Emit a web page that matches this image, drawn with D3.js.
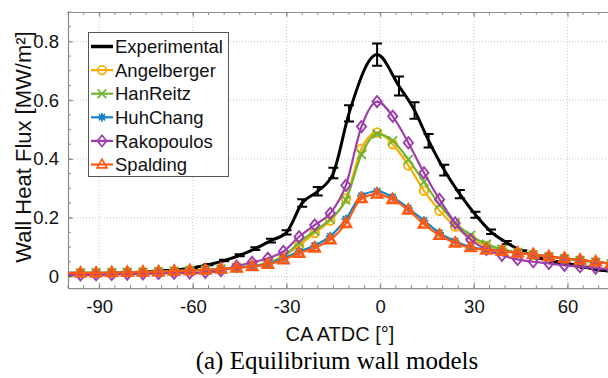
<!DOCTYPE html>
<html><head><meta charset="utf-8">
<script src="https://cdn.jsdelivr.net/npm/d3@7"></script>
<style>body{margin:0;background:#fff}svg{display:block}</style>
</head><body>
<svg id="c" width="608" height="378"></svg>
<script>
// ---- data ----
const expX = [-100,-95,-90,-85,-80,-75,-70,-65,-60,-55,-50,-45,-40,-35,-30,-25,-20,-15,-10,-1,6,11,15.5,20.5,25.5,30.5,35.5,40.5,45.5,50.5,55.5,60.5,65.5,70.5,75.5];
const expY = [0.006,0.007,0.009,0.011,0.013,0.016,0.019,0.023,0.03,0.04,0.054,0.072,0.095,0.122,0.15,0.25,0.29,0.352,0.555,0.755,0.648,0.565,0.462,0.362,0.28,0.21,0.152,0.115,0.085,0.064,0.05,0.04,0.031,0.022,0.015];
const modelX = [-100,-96,-91,-86,-81,-76,-71,-66,-61,-56,-51,-46,-41,-36,-31,-26,-21,-16,-11,-6,-1,4,9,14,19,24,29,34,39,44,49,54,59,64,69,74,79];
const angelberger = [0.012,0.012,0.012,0.013,0.014,0.015,0.016,0.018,0.02,0.022,0.025,0.03,0.036,0.046,0.07,0.105,0.148,0.19,0.265,0.435,0.49,0.45,0.378,0.292,0.224,0.17,0.13,0.104,0.09,0.081,0.074,0.067,0.061,0.055,0.049,0.044,0.04];
const hanReitz    = [0.012,0.012,0.012,0.013,0.014,0.015,0.016,0.018,0.02,0.022,0.025,0.03,0.036,0.045,0.068,0.115,0.155,0.195,0.26,0.415,0.485,0.462,0.398,0.322,0.245,0.183,0.14,0.11,0.093,0.082,0.074,0.067,0.06,0.054,0.048,0.043,0.039];
const huhChang    = [0.012,0.012,0.012,0.013,0.014,0.015,0.016,0.018,0.02,0.022,0.025,0.029,0.035,0.043,0.062,0.085,0.105,0.137,0.195,0.275,0.29,0.27,0.232,0.19,0.148,0.12,0.1,0.092,0.087,0.081,0.075,0.068,0.062,0.056,0.05,0.044,0.04];
const rakopoulos  = [0.005,0.005,0.006,0.007,0.008,0.009,0.01,0.011,0.012,0.014,0.02,0.035,0.048,0.062,0.085,0.135,0.175,0.215,0.31,0.51,0.595,0.545,0.455,0.353,0.262,0.182,0.125,0.092,0.072,0.058,0.05,0.044,0.038,0.033,0.028,0.024,0.021];
const spalding    = [0.012,0.012,0.012,0.013,0.014,0.015,0.016,0.018,0.02,0.022,0.025,0.029,0.034,0.041,0.057,0.079,0.097,0.125,0.18,0.265,0.28,0.262,0.226,0.178,0.14,0.114,0.098,0.09,0.086,0.08,0.075,0.068,0.062,0.056,0.05,0.044,0.04];
const seriesNames = ["Experimental","Angelberger","HanReitz","HuhChang","Rakopoulos","Spalding"];
const xTicks = [-90,-60,-30,0,30,60];
const yTicks = [0,0.2,0.4,0.6,0.8];
const yTickLabels = ["0","0.2","0.4","0.6","0.8"];

// ---- setup ----
const svg = d3.select("#c");
const L=68, T=12, B=288.2, R=630;
const x = d3.scaleLinear().domain([-100,80]).range([L,R]);
const y = d3.scaleLinear().domain([-0.04,0.9]).range([B,T]);
const sans = "'Liberation Sans', Arial, sans-serif";
const axisCol = "#8c8c8c";

// grid
const g = svg.append("g");
g.selectAll(".gx").data(xTicks).join("line")
  .attr("x1",d=>x(d)).attr("x2",d=>x(d)).attr("y1",T).attr("y2",B)
  .attr("stroke","#c8c8c8").attr("stroke-width",1).attr("stroke-dasharray","1,2");
g.selectAll(".gy").data(yTicks).join("line")
  .attr("x1",L).attr("x2",608).attr("y1",d=>y(d)).attr("y2",d=>y(d))
  .attr("stroke","#c8c8c8").attr("stroke-width",1).attr("stroke-dasharray","1,2");

// axes (ticks inside)
const xMinor = d3.range(-100,81,5);
const yMinorVals = d3.range(0,0.91,0.05).map(v=>+v.toFixed(2));
const axB = d3.axisBottom(x).tickValues(xTicks).tickFormat(d=>d).tickSizeInner(-5).tickSizeOuter(0).tickPadding(12);
const gb = svg.append("g").attr("transform",`translate(0,${B})`).call(axB);
const axT = d3.axisTop(x).tickValues(xTicks).tickFormat("").tickSizeInner(-5).tickSizeOuter(0);
const gt = svg.append("g").attr("transform",`translate(0,${T})`).call(axT);
const axL = d3.axisLeft(y).tickValues(yTicks).tickFormat((d,i)=>yTickLabels[i]).tickSizeInner(-5).tickSizeOuter(0).tickPadding(9);
const gl = svg.append("g").attr("transform",`translate(${L},0)`).call(axL);
[gb,gt,gl].forEach(a=>{
  a.select(".domain").attr("stroke",axisCol).attr("stroke-width",1.2);
  a.selectAll(".tick line").attr("stroke",axisCol);
  a.selectAll("text").attr("fill","#111").style("font-family",sans).style("font-size","18.5px");
});
// minor ticks
svg.append("g").selectAll("line").data(xMinor).join("line")
  .attr("x1",d=>x(d)).attr("x2",d=>x(d)).attr("y1",B).attr("y2",B-3).attr("stroke",axisCol);
svg.append("g").selectAll("line").data(xMinor).join("line")
  .attr("x1",d=>x(d)).attr("x2",d=>x(d)).attr("y1",T).attr("y2",T+3).attr("stroke",axisCol);
svg.append("g").selectAll("line").data(yMinorVals).join("line")
  .attr("x1",L).attr("x2",L+3).attr("y1",d=>y(d)).attr("y2",d=>y(d)).attr("stroke",axisCol);

// clip
svg.append("clipPath").attr("id","clip").append("rect").attr("x",L).attr("y",T).attr("width",R-L).attr("height",B-T);
const plot = svg.append("g").attr("clip-path","url(#clip)");

// experimental
const expData = expX.map((v,i)=>({x:v,y:expY[i]}));
const line = d3.line().x(d=>x(d.x)).y(d=>y(d.y)).curve(d3.curveMonotoneX);
plot.append("path").datum(expData).attr("d",line).attr("fill","none").attr("stroke","#000").attr("stroke-width",3);
const eb = plot.append("g").attr("stroke","#000").attr("stroke-width",2);
expData.forEach(d=>{
  const e = Math.max(d.y*0.05, 0.002);
  eb.append("line").attr("x1",x(d.x)).attr("x2",x(d.x)).attr("y1",y(d.y-e)).attr("y2",y(d.y+e));
  eb.append("line").attr("x1",x(d.x)-5).attr("x2",x(d.x)+5).attr("y1",y(d.y-e)).attr("y2",y(d.y-e));
  eb.append("line").attr("x1",x(d.x)-5).attr("x2",x(d.x)+5).attr("y1",y(d.y+e)).attr("y2",y(d.y+e));
});

// models
const models = [
  {name:"Angelberger", vals:angelberger, color:"#F4B000", marker:"circle"},
  {name:"HanReitz", vals:hanReitz, color:"#72B335", marker:"x"},
  {name:"HuhChang", vals:huhChang, color:"#1483C6", marker:"star"},
  {name:"Rakopoulos", vals:rakopoulos, color:"#9C3FAA", marker:"diamond"},
  {name:"Spalding", vals:spalding, color:"#FF5A14", marker:"triangle"}
];
function markerPath(type){
  const s=4.4;
  switch(type){
    case "circle": return d3.symbol(d3.symbolCircle, 58)();
    case "x": return `M${-s},${-s}L${s},${s}M${-s},${s}L${s},${-s}`;
    case "star": return `M${-s},0L${s},0M0,${-s}L0,${s}M${-s*0.7},${-s*0.7}L${s*0.7},${s*0.7}M${-s*0.7},${s*0.7}L${s*0.7},${-s*0.7}`;
    case "diamond": return `M0,${-5.6}L4.6,0L0,5.6L-4.6,0Z`;
    case "triangle": return `M0,${-5.4}L5,3.4L-5,3.4Z`;
  }
}
const mline = d3.line().x(d=>x(d.x)).y(d=>y(d.y)).curve(d3.curveMonotoneX);
models.forEach(m=>{
  const data = modelX.map((v,i)=>({x:v,y:m.vals[i]}));
  plot.append("path").datum(data).attr("d",mline).attr("fill","none").attr("stroke",m.color).attr("stroke-width",2.2);
  plot.append("g").selectAll("path").data(data.filter(d=>d.x>-100&&d.x<78)).join("path")
    .attr("transform",d=>`translate(${x(d.x)},${y(d.y)})`)
    .attr("d",markerPath(m.marker))
    .attr("fill","none").attr("stroke",m.color).attr("stroke-width",m.marker==="triangle"?2.6:1.9);
});

// legend
const lg = svg.append("g");
lg.append("rect").attr("x",88.5).attr("y",32.5).attr("width",140).attr("height",144)
  .attr("fill","#fff").attr("stroke","#555").attr("stroke-width",1);
const ly = i=>46.5+i*23.6;
lg.append("line").attr("x1",91).attr("x2",113).attr("y1",ly(0)).attr("y2",ly(0)).attr("stroke","#000").attr("stroke-width",3.5);
models.forEach((m,i)=>{
  lg.append("line").attr("x1",91).attr("x2",113).attr("y1",ly(i+1)).attr("y2",ly(i+1)).attr("stroke",m.color).attr("stroke-width",2.2);
  lg.append("path").attr("transform",`translate(102,${ly(i+1)})`).attr("d",markerPath(m.marker))
    .attr("fill","none").attr("stroke",m.color).attr("stroke-width",1.7);
});
lg.selectAll("text").data(seriesNames).join("text")
  .attr("x",115).attr("y",(d,i)=>ly(i)).attr("dy","0.36em")
  .style("font-family",sans).style("font-size","18.5px").attr("fill","#111").text(d=>d);

// axis labels
svg.append("text").attr("x",340).attr("y",341).attr("text-anchor","middle")
  .style("font-family",sans).style("font-size","20px").attr("fill","#111").text("CA ATDC [°]");
svg.append("text").attr("transform","translate(31,147) rotate(-90)").attr("text-anchor","middle")
  .style("font-family",sans).style("font-size","22px").attr("fill","#111").text("Wall Heat Flux [MW/m²]");
svg.append("text").attr("x",337).attr("y",369).attr("text-anchor","middle")
  .style("font-family","'Liberation Serif','Times New Roman',serif").style("font-size","25px").attr("fill","#000")
  .text("(a) Equilibrium wall models");
</script>
</body></html>
